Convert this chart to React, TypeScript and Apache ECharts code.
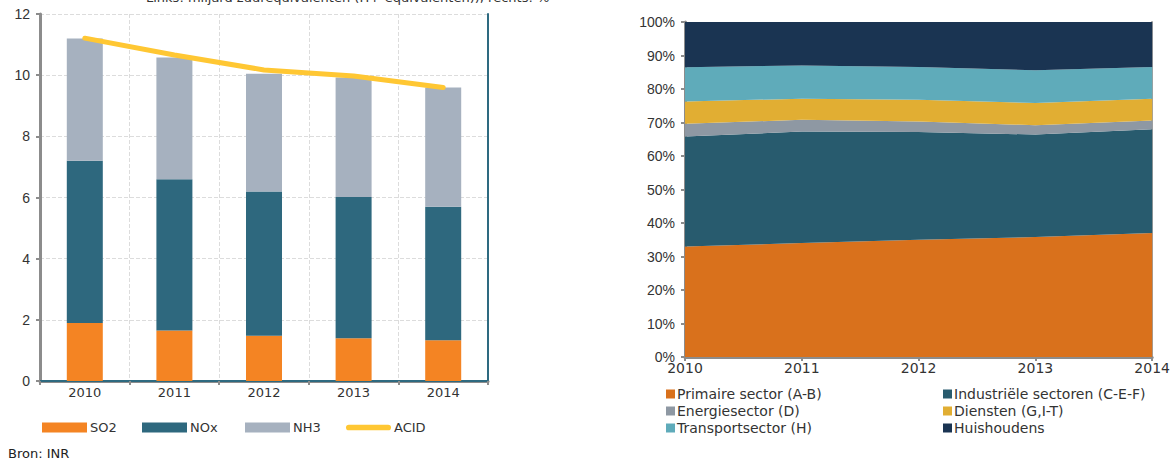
import React, { useEffect, useRef } from "react";
import * as echarts from "echarts";

const years = ["2010", "2011", "2012", "2013", "2014"];
const so2 = [1.9, 1.65, 1.48, 1.4, 1.33];
const nox = [5.3, 4.95, 4.72, 4.62, 4.37];
const nh3 = [4.0, 3.98, 3.85, 3.9, 3.9];
const acid = [11.21, 10.66, 10.17, 9.97, 9.6];

const primaire = [33, 34, 35, 35.8, 37];
const industrie = [32.8, 33.3, 32.2, 30.6, 31];
const energie = [3.8, 3.5, 3.1, 2.8, 2.6];
const diensten = [6.7, 6.3, 6.5, 6.6, 6.5];
const transport = [10.2, 9.9, 9.8, 9.8, 9.5];
const huishoudens = [13.5, 13, 13.4, 14.4, 13.4];

const titleText = "Links: miljard zuurequivalenten (H+-equivalenten)), rechts: %";
const sourceText = "Bron: INR";

const C = {
  so2: "#F48423",
  nox: "#2E687E",
  nh3: "#A6B1BF",
  acid: "#FFC733",
  prim: "#D9711C",
  ind: "#285B6E",
  ener: "#8E98A3",
  dien: "#E1AE33",
  trans: "#5FABBA",
  huis: "#1A3452",
};

const leftFont = "DejaVu Sans";
const txt = "#333333";
const axisGray = "#8C8C8C";

export default function App() {
  const ref = useRef<HTMLDivElement>(null);
  useEffect(() => {
    if (!ref.current) return;
    const chart = echarts.init(ref.current, null, { renderer: "svg" });
    const areaSeries = (name: string, data: number[], color: string) => ({
      name,
      type: "line",
      stack: "share",
      xAxisIndex: 2,
      yAxisIndex: 2,
      data,
      symbol: "none",
      lineStyle: { width: 0 },
      areaStyle: { color, opacity: 1 },
      itemStyle: { color },
    });
    const leftLegend = (name: string, left: number, icon = "rect", h = 10) => ({
      left,
      top: 421,
      padding: 0,
      itemWidth: 45,
      itemHeight: h,
      itemGap: 0,
      icon,
      textStyle: { fontSize: 13, color: txt, fontFamily: leftFont, padding: [0, 0, 0, -2] },
      data: [name],
    });
    const rightLegend = (names: string[], left: number) => ({
      left,
      top: 386,
      padding: 0,
      orient: "vertical",
      itemWidth: 9,
      itemHeight: 9,
      itemGap: 1,
      icon: "rect",
      textStyle: { fontSize: 14, color: txt, fontFamily: leftFont, lineHeight: 16, padding: [0, 0, 0, -3] },
      data: names,
    });
    chart.setOption({
      animation: false,
      textStyle: { fontFamily: leftFont },
      graphic: [
        {
          type: "text",
          left: 146,
          top: -9,
          style: { text: titleText, font: `13px ${leftFont}`, fill: txt },
        },
        {
          type: "text",
          left: 8,
          top: 447,
          style: { text: sourceText, font: `13px ${leftFont}`, fill: "#222" },
        },
      ],
      grid: [
        { left: 40, top: 14, width: 448, height: 367 },
        { left: 685, top: 22, width: 468, height: 335 },
      ],
      legend: [
        leftLegend("SO2", 42),
        leftLegend("NOx", 142),
        leftLegend("NH3", 245),
        leftLegend("ACID", 346, "path://M3,2 L44,2 A3,3 0 0 1 44,8 L3,8 A3,3 0 0 1 3,2 Z"),
        rightLegend(["Primaire sector (A-B)", "Energiesector (D)", "Transportsector (H)"], 666),
        rightLegend(["Industriële sectoren (C-E-F)", "Diensten (G,I-T)", "Huishoudens"], 943),
      ],
      xAxis: [
        {
          type: "category",
          gridIndex: 0,
          data: years,
          axisLine: { lineStyle: { color: axisGray, width: 3 } },
          axisTick: { show: true, length: 4, lineStyle: { color: axisGray, width: 2 } },
          axisLabel: { color: txt, fontSize: 13, fontFamily: leftFont, margin: 5 },
          splitLine: { show: true, interval: 0, lineStyle: { type: "dashed", color: "#DCDCDC" } },
        },
        {
          type: "category",
          gridIndex: 0,
          position: "top",
          data: years,
          axisLine: { lineStyle: { color: "#2E6A80", width: 2 } },
          axisTick: { show: false },
          axisLabel: { show: false },
        },
        {
          type: "category",
          gridIndex: 1,
          data: years,
          boundaryGap: false,
          axisLine: { lineStyle: { color: axisGray, width: 3 } },
          axisTick: { show: true, length: 4, lineStyle: { color: axisGray, width: 2 } },
          axisLabel: { color: txt, fontSize: 14, fontFamily: leftFont, margin: 4 },
          splitLine: { show: false },
        },
      ],
      yAxis: [
        {
          type: "value",
          gridIndex: 0,
          min: 0,
          max: 12,
          interval: 2,
          axisLine: { show: true, lineStyle: { color: axisGray, width: 3 } },
          axisTick: { show: true, length: 4, lineStyle: { color: axisGray, width: 2 } },
          axisLabel: { color: txt, fontSize: 14, fontFamily: "Liberation Sans", margin: 10 },
          splitLine: { lineStyle: { type: "dashed", color: "#DCDCDC" } },
        },
        {
          type: "value",
          gridIndex: 0,
          position: "right",
          min: 0,
          max: 12,
          interval: 2,
          axisLine: { show: true, lineStyle: { color: "#2E6A80", width: 2 } },
          axisTick: { show: false },
          axisLabel: { show: false },
          splitLine: { show: false },
        },
        {
          type: "value",
          gridIndex: 1,
          min: 0,
          max: 100,
          interval: 10,
          axisLine: { show: true, lineStyle: { color: axisGray, width: 3 } },
          axisTick: { show: true, length: 4, lineStyle: { color: axisGray, width: 2 } },
          axisLabel: { color: txt, fontSize: 14, fontFamily: "Liberation Sans", margin: 10, formatter: "{value}%" },
          splitLine: { show: false },
        },
        {
          type: "value",
          gridIndex: 1,
          position: "right",
          min: 0,
          max: 100,
          interval: 10,
          axisLine: { show: true, lineStyle: { color: "#A0A0A0", width: 2 } },
          axisTick: { show: false },
          axisLabel: { show: false },
          splitLine: { show: false },
        },
      ],
      series: [
        { name: "SO2", type: "bar", stack: "em", data: so2, barWidth: 36, itemStyle: { color: C.so2 }, xAxisIndex: 0, yAxisIndex: 0 },
        { name: "NOx", type: "bar", stack: "em", data: nox, barWidth: 36, itemStyle: { color: C.nox }, xAxisIndex: 0, yAxisIndex: 0 },
        { name: "NH3", type: "bar", stack: "em", data: nh3, barWidth: 36, itemStyle: { color: C.nh3 }, xAxisIndex: 0, yAxisIndex: 0 },
        {
          name: "ACID",
          type: "line",
          data: acid,
          xAxisIndex: 0,
          yAxisIndex: 0,
          symbol: "none",
          lineStyle: { color: C.acid, width: 5, cap: "round" },
          itemStyle: { color: C.acid },
        },
        areaSeries("Primaire sector (A-B)", primaire, C.prim),
        areaSeries("Industriële sectoren (C-E-F)", industrie, C.ind),
        areaSeries("Energiesector (D)", energie, C.ener),
        areaSeries("Diensten (G,I-T)", diensten, C.dien),
        areaSeries("Transportsector (H)", transport, C.trans),
        areaSeries("Huishoudens", huishoudens, C.huis),
      ],
    });
    return () => chart.dispose();
  }, []);
  return <div ref={ref} style={{ width: 1173, height: 465, position: "absolute", left: 0, top: 0 }} />;
}
